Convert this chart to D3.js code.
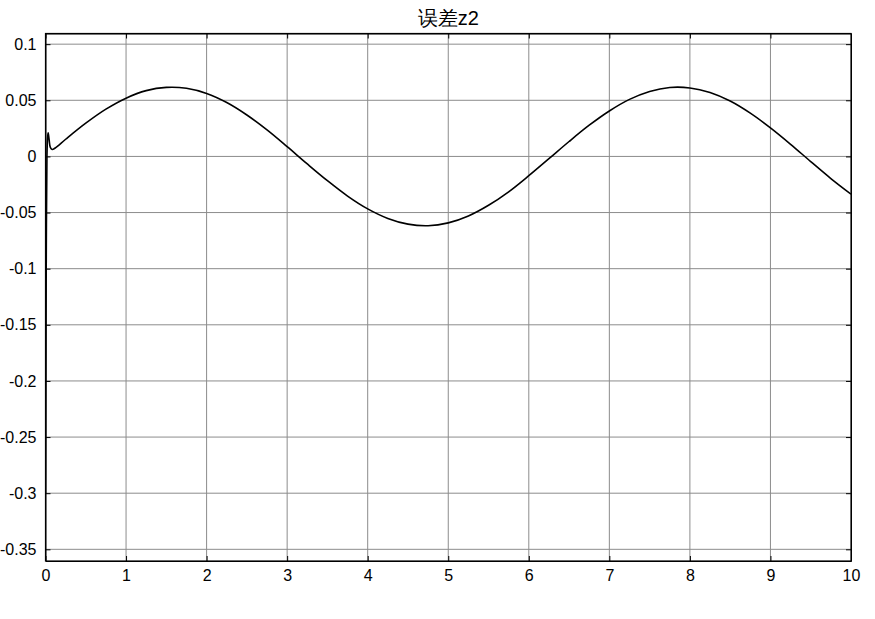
<!DOCTYPE html>
<html>
<head>
<meta charset="utf-8">
<script src="https://cdn.jsdelivr.net/npm/d3@7"></script>
<style>
  body { margin: 0; background: #fff; }
  text { font-family: "Liberation Sans", Arial, sans-serif; }
</style>
</head>
<body>
<svg width="875" height="619"></svg>
<script>
// values
var timeVals = [0, 0.004, 0.01, 0.018, 0.026, 0.033, 0.045, 0.06, 0.083, 0.12, 0.25, 0.5, 0.75, 1, 1.25, 1.5, 1.75, 2, 2.25, 2.5, 2.75, 3,
  3.25, 3.5, 3.75, 4, 4.25, 4.5, 4.75, 5, 5.25, 5.5, 5.75, 6, 6.25, 6.5, 6.75, 7,
  7.25, 7.5, 7.75, 8, 8.25, 8.5, 8.75, 9, 9.25, 9.5, 9.75, 10];
var errVals = [-0.30, -0.2, -0.08, 0.0, 0.017, 0.021, 0.015, 0.008, 0.0062, 0.0075, 0.0153, 0.0296, 0.0421, 0.0519, 0.0586, 0.0615, 0.0607, 0.0561, 0.0480, 0.0369, 0.0236, 0.0087,
  -0.0067, -0.0216, -0.0353, -0.0467, -0.0552, -0.0603, -0.0617, -0.0592, -0.0530, -0.0435, -0.0315, -0.0172, -0.0020, 0.0133, 0.0278, 0.0405,
  0.0508, 0.0579, 0.0614, 0.0610, 0.0569, 0.0493, 0.0385, 0.0254, 0.0108, -0.0046, -0.0197, -0.0336];
var xTicks = [0, 1, 2, 3, 4, 5, 6, 7, 8, 9, 10];
var yTicks = [0.1, 0.05, 0, -0.05, -0.1, -0.15, -0.2, -0.25, -0.3, -0.35];
var titleText = "误差z2";

var svg = d3.select("svg"),
    margin = { top: 33.5, right: 24, bottom: 58, left: 45.5 },
    width = +svg.attr("width") - margin.left - margin.right,
    height = +svg.attr("height") - margin.top - margin.bottom;

var x = d3.scaleLinear().domain([0, 10]).range([0, width]),
    y = d3.scaleLinear().domain([-0.3604, 0.1095]).range([height, 0]);

var g = svg.append("g")
    .attr("transform", "translate(" + margin.left + "," + margin.top + ")");

// grid
g.selectAll(".gx").data(xTicks.slice(1, -1)).enter().append("line")
    .attr("x1", function (d) { return x(d); }).attr("x2", function (d) { return x(d); })
    .attr("y1", 0).attr("y2", height)
    .attr("stroke", "#8c8c8c").attr("stroke-width", 1);
g.selectAll(".gy").data(yTicks).enter().append("line")
    .attr("y1", function (d) { return y(d); }).attr("y2", function (d) { return y(d); })
    .attr("x1", 0).attr("x2", width)
    .attr("stroke", "#8c8c8c").attr("stroke-width", 1);

// axes with inward ticks, plain hyphen for minus like the original
var fmt = function (d) { return String(+d.toFixed(2)); };
var xAxis = d3.axisBottom(x).tickValues(xTicks).tickSizeInner(-5).tickSizeOuter(0).tickPadding(9).tickFormat(fmt),
    yAxis = d3.axisLeft(y).tickValues(yTicks).tickSizeInner(-5).tickSizeOuter(0).tickPadding(9).tickFormat(fmt);

g.append("g").attr("class", "axis").attr("transform", "translate(0," + height + ")").call(xAxis);
g.append("g").attr("class", "axis").call(yAxis);
g.append("g").attr("class", "axis")
    .call(d3.axisTop(x).tickValues(xTicks).tickSizeInner(-5).tickSizeOuter(0).tickFormat(""));
g.append("g").attr("class", "axis").attr("transform", "translate(" + width + ",0)")
    .call(d3.axisRight(y).tickValues(yTicks).tickSizeInner(-5).tickSizeOuter(0).tickFormat(""));

g.selectAll(".axis path").attr("stroke", "#000");
g.selectAll(".axis line").attr("stroke", "#000");
g.selectAll(".axis text").attr("font-size", 16).attr("fill", "#000")
    .attr("font-family", "'Liberation Sans', Arial, sans-serif");

g.append("rect").attr("width", width).attr("height", height)
    .attr("fill", "none").attr("stroke", "#000").attr("stroke-width", 1.2);

// curve
g.append("defs").append("clipPath").attr("id", "clip")
    .append("rect").attr("width", width).attr("height", height);

var line = d3.line()
    .curve(d3.curveCatmullRom)
    .x(function (d, i) { return x(timeVals[i]); })
    .y(function (d) { return y(d); });

g.append("path")
    .datum(errVals)
    .attr("clip-path", "url(#clip)")
    .attr("fill", "none")
    .attr("stroke", "#000")
    .attr("stroke-width", 1.6)
    .attr("d", line);

svg.append("text")
    .attr("x", margin.left + width / 2).attr("y", 25)
    .attr("text-anchor", "middle")
    .attr("font-size", 20)
    .attr("font-family", "'Liberation Sans', 'Noto Sans CJK SC', sans-serif")
    .text(titleText);
</script>
</body>
</html>
